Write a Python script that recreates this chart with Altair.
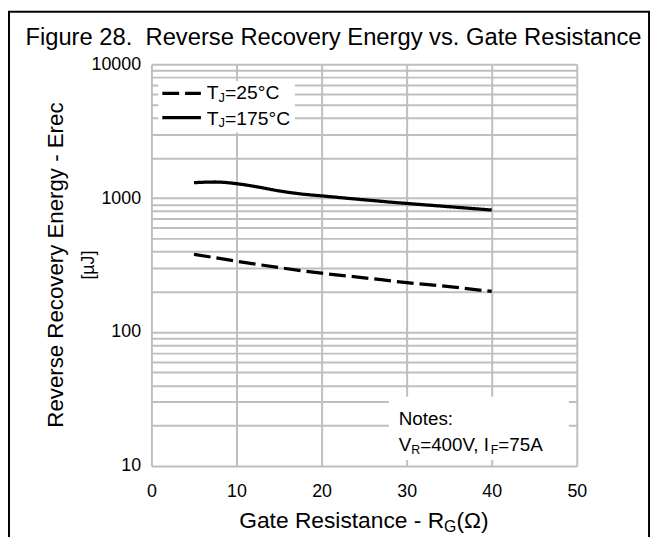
import altair as alt
import pandas as pd

FONT = "Liberation Sans"

# ---- data ----
rg_25 = [5, 10, 15, 20, 25, 30, 35, 40]
erec_25 = [381, 338, 303, 275, 254, 234, 218, 201]
rg_175 = [5, 7.5, 10, 12.5, 15, 17.5, 20, 25, 30, 35, 40]
erec_175 = [1305, 1320, 1283, 1212, 1133, 1076, 1040, 972, 913, 863, 815]
series_names = ["TJ=25°C", "TJ=175°C"]

x_ticks = [0, 10, 20, 30, 40, 50]
y_labels = [10, 100, 1000, 10000]
y_grid = [m * d for d in (10, 100, 1000) for m in range(1, 10)] + [10000]

df = pd.DataFrame({
    "rg": rg_25 + rg_175,
    "erec": erec_25 + erec_175,
    "series": [series_names[0]] * len(rg_25) + [series_names[1]] * len(rg_175),
})
one = pd.DataFrame({"k": [0]})

# Arial / Liberation Sans advance widths (per 1000 em) for composing subscripts
W = {' ': 278, '-': 333, '(': 333, ')': 333, ',': 278, '.': 278, '=': 584, '°': 400,
     ':': 278, 'A': 667, 'C': 722, 'E': 667, 'F': 611, 'G': 778, 'I': 278, 'J': 500,
     'N': 722, 'R': 722, 'T': 611, 'V': 667, 'a': 556, 'c': 500, 'e': 556, 'g': 556,
     'i': 222, 'n': 556, 'o': 556, 'r': 333, 's': 500, 't': 278, 'v': 500, 'y': 500,
     'Ω': 768}


def tw(s, size):
    return sum(W.get(c, 556) for c in s) * size / 1000.0


def txt(s, x, y, size, align="left", angle=0, dy=0):
    return alt.Chart(one).mark_text(
        text=s, align=align, baseline="alphabetic", font=FONT, fontSize=size,
        color="black", angle=angle, dy=dy
    ).encode(x=alt.value(x), y=alt.value(y))


def composite(parts, x0, y):
    """parts: list of (text, size, dy)"""
    layers = []
    x = x0
    for s, size, dy in parts:
        layers.append(txt(s, x, y, size, dy=dy))
        x += tw(s, size)
    return layers


GRID = "#bfbfbf"

label_test = " || ".join(f"datum.value == {v}" for v in y_labels)

lines = alt.Chart(df).mark_line(color="black", strokeWidth=3.3, interpolate="monotone").encode(
    x=alt.X("rg:Q", scale=alt.Scale(domain=[0, 50], nice=False),
            axis=alt.Axis(values=x_ticks, title=None, grid=True, gridColor=GRID, gridWidth=2,
                          domain=False, ticks=False, labelFontSize=18, labelFont=FONT,
                          labelColor="black", labelPadding=17, labelFlush=False,
                          labelOverlap=False)),
    y=alt.Y("erec:Q", scale=alt.Scale(type="log", domain=[10, 10000], nice=False),
            axis=alt.Axis(values=y_grid, title=None, grid=True, gridColor=GRID, gridWidth=2,
                          domain=False, ticks=False, labelFontSize=18, labelFont=FONT,
                          labelColor="black", labelPadding=11, labelOverlap=False,
                          labelExpr=f"({label_test}) ? format(datum.value, 'd') : ''")),
    strokeDash=alt.StrokeDash("series:N",
                              scale=alt.Scale(domain=series_names, range=[[17, 6], [1, 0]]),
                              legend=None),
)

# white boxes (legend + notes)
legend_box = alt.Chart(one).mark_rect(color="white").encode(
    x=alt.value(7), x2=alt.value(145), y=alt.value(17), y2=alt.value(69))
notes_box = alt.Chart(one).mark_rect(color="white").encode(
    x=alt.value(240), x2=alt.value(422), y=alt.value(336), y2=alt.value(400))

leg_dash = alt.Chart(one).mark_rule(color="black", strokeWidth=3.3, strokeDash=[17, 6]).encode(
    x=alt.value(11), x2=alt.value(50), y=alt.value(29.5))
leg_solid = alt.Chart(one).mark_rule(color="black", strokeWidth=3.3).encode(
    x=alt.value(11), x2=alt.value(50), y=alt.value(54))

# frame
frame_left = alt.Chart(one).mark_rule(color="black", strokeWidth=2).encode(
    x=alt.value(-144), y=alt.value(-53), y2=alt.value(480))
frame_right = alt.Chart(one).mark_rule(color="black", strokeWidth=2).encode(
    x=alt.value(503), y=alt.value(-53), y2=alt.value(480))
frame_top = alt.Chart(one).mark_rule(color="black", strokeWidth=2).encode(
    x=alt.value(-145), x2=alt.value(504), y=alt.value(-53))

texts = []
texts.append(txt("Figure 28.\u00a0 Reverse Recovery Energy vs. Gate Resistance", 184, -19, 24,
                 align="center"))
texts.append(txt("Reverse Recovery Energy - Erec", -89, 203, 22.5, align="center", angle=270))
texts.append(txt("[µJ]", -58.5, 203, 18, align="center", angle=270))

# x-axis title with subscript
xt_parts = [("Gate Resistance - R", 23, 0), ("G", 16, 4), ("(Ω)", 23, 0)]
xt_w = sum(tw(s, z) for s, z, _ in xt_parts)
texts += composite(xt_parts, 215 - xt_w / 2, 469)

# legend labels
texts += composite([("T", 19.5, 0), ("J", 13, 2.5), ("=25°C", 19.5, 0)], 56, 35.5)
texts += composite([("T", 19.5, 0), ("J", 13, 2.5), ("=175°C", 19.5, 0)], 56, 61)

# notes
texts.append(txt("Notes:", 250, 365, 19))
texts += composite([("V", 19, 0), ("R", 12.5, 2.5), ("=400V, I", 19, 0), ("F", 12.5, 2.5),
                    ("=75A", 19, 0)], 250, 391)

chart = alt.layer(
    legend_box, notes_box, lines, leg_dash, leg_solid,
    frame_left, frame_right, frame_top, *texts
).properties(
    width=430, height=406,
    padding={"left": 145, "top": 54, "right": 75, "bottom": 69},
    autosize=alt.AutoSizeParams(type="none"),
    background="white",
).configure_view(strokeWidth=0)

chart.save("out.html", embed_options={"renderer": "svg", "actions": False})
